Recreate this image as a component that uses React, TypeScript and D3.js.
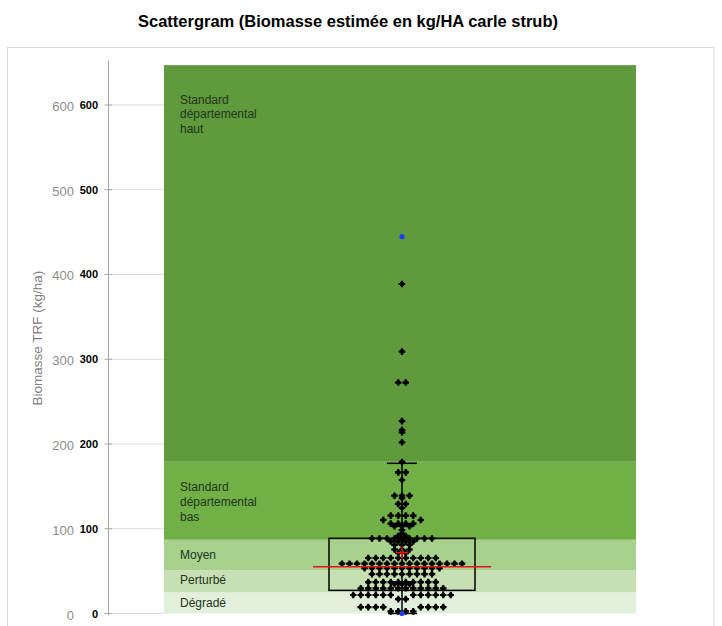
import React from "react";
import * as d3 from "d3";

// ---------- DATA ----------
const title = "Scattergram (Biomasse estimée en kg/HA carle strub)";
const yAxisLabel = "Biomasse TRF (kg/ha)";
const yTicks = [0, 100, 200, 300, 400, 500, 600];

const bandNames = [
  ["Dégradé"],
  ["Perturbé"],
  ["Moyen"],
  ["Standard", "départemental", "bas"],
  ["Standard", "départemental", "haut"],
];
const bandLows = [0, 25, 51, 87, 179];
const bandHighs = [25, 51, 87, 179, 647];

// dot rows: value (kg/ha) and number of dots sharing that value
const rowValues = [2.5, 7.5, 17, 21.8, 29.7, 34.5, 37, 46.5, 53.4, 58.8, 65.5, 71.5, 75.5, 81, 85, 88.5, 91.5, 94.6, 98.5, 103, 106, 110.3, 115.5, 124.5, 129.3, 136, 139, 157.5, 166.5, 178.8, 202, 213.8, 216.5, 227, 272.5, 309, 388.8];
const rowCounts = [4, 8, 2, 12, 12, 3, 10, 9, 11, 17, 10, 2, 3, 3, 4, 9, 2, 1, 1, 3, 4, 2, 4, 1, 2, 1, 3, 1, 2, 1, 1, 1, 1, 1, 2, 1, 1];
const extremeValues = [0, 444.6]; // min / max (blue)

const whiskerLow = 0;
const q1 = 27.3;
const median = 55.2;
const q3 = 88.7;
const whiskerHigh = 177.2;
const mean = 71.7;

// ---------- STYLE ----------
const bandColors = ["#e2efda", "#c6e0b4", "#a9d18e", "#71b047", "#5f9a3d"];
const bandLabelFirstBaseline = [607, 584, 559, 491, 103.5];

const W = 722;
const H = 626;
const plotTop = 62.6;
const plotBottom = 613.5;
const axisX = 108.5;
const greenLeft = 164;
const greenRight = 636;
const centerX = 402;
const slot = 7.5;

const y = d3.scaleLinear().domain([0, 650]).range([plotBottom, plotTop]);
const xOff = d3.scaleLinear().domain([-1, 1]).range([centerX - slot, centerX + slot]);

type Dot = { v: number; s: number };

function layoutDots(): Dot[] {
  const placed: { v: number; s: number; single: boolean }[] = [];
  const out: Dot[] = [];
  const order = d3.range(rowValues.length).sort((a, b) => rowValues[a] - rowValues[b]);
  for (const i of order) {
    const v = rowValues[i];
    const n = rowCounts[i];
    if (n === 1) {
      placed.push({ v, s: 0, single: true });
      out.push({ v, s: 0 });
      continue;
    }
    const even = n % 2 === 0;
    const cands: number[] = [];
    for (let k = 0; k < 40; k++) {
      if (even) {
        cands.push(-(k + 0.5), k + 0.5);
      } else if (k === 0) cands.push(0);
      else cands.push(-k, k);
    }
    let got = 0;
    for (const c of cands) {
      if (got >= n) break;
      const blocked = placed.some(
        (p) => !p.single && Math.abs(p.s - c) < 0.1 && Math.abs(y(p.v) - y(v)) < 4.4
      );
      if (blocked) continue;
      out.push({ v, s: c });
      got++;
    }
    out.filter((d) => d.v === v).forEach((d) => placed.push({ v: d.v, s: d.s, single: false }));
  }
  return out;
}

const dots = layoutDots();
const crossPath = d3.symbol().type(d3.symbolCross).size(24)() as string;

export default function App() {
  const labelFont = "'Liberation Sans', Arial, sans-serif";
  return (
    <svg
      width={W}
      height={H}
      viewBox={`0 0 ${W} ${H}`}
      style={{ position: "absolute", left: 0, top: 0, background: "#fff" }}
    >
      <text
        x={348}
        y={26.5}
        textAnchor="middle"
        fontFamily={labelFont}
        fontWeight="bold"
        fontSize={16.2}
        textLength={420}
        lengthAdjust="spacingAndGlyphs"
        fill="#000"
      >
        {title}
      </text>

      {/* outer frame */}
      <rect x={7.5} y={47.5} width={706.5} height={590} fill="none" stroke="#d9d9d9" strokeWidth={1} />

      {/* gridlines */}
      {yTicks.map((t) => (
        <line key={"g" + t} x1={axisX} x2={greenLeft} y1={y(t)} y2={y(t)} stroke="#dcdcdc" strokeWidth={1} />
      ))}

      {/* bands */}
      {bandLows.map((lo, i) => (
        <rect
          key={"b" + i}
          x={greenLeft}
          width={greenRight - greenLeft}
          y={y(bandHighs[i])}
          height={y(lo) - y(bandHighs[i])}
          fill={bandColors[i]}
        />
      ))}
      {bandNames.map((lines, i) => (
        <text key={"bl" + i} fontFamily={labelFont} fontSize={12} fill="#22351a">
          {lines.map((ln, j) => (
            <tspan key={j} x={180} y={bandLabelFirstBaseline[i] + j * 14.8}>
              {ln}
            </tspan>
          ))}
        </text>
      ))}

      {/* axis */}
      <line x1={axisX} x2={axisX} y1={plotTop - 2} y2={plotBottom + 2} stroke="#a6a6a6" strokeWidth={1} />
      {yTicks.map((t) => (
        <g key={"t" + t}>
          <line x1={104.5} x2={112} y1={y(t)} y2={y(t)} stroke="#a6a6a6" strokeWidth={1} />
          <text x={74} y={y(t) + 6} textAnchor="end" fontFamily={labelFont} fontSize={13} fill="#8c8c8c">
            {t}
          </text>
          <text x={98} y={y(t) + 4} textAnchor="end" fontFamily={labelFont} fontWeight="bold" fontSize={11} fill="#000">
            {t}
          </text>
        </g>
      ))}
      <text
        transform={`translate(42, ${y(325)}) rotate(-90)`}
        textAnchor="middle"
        fontFamily={labelFont}
        fontSize={13.5}
        fill="#808080"
      >
        {yAxisLabel}
      </text>

      {/* box plot */}
      <line x1={centerX} x2={centerX} y1={y(whiskerLow)} y2={y(whiskerHigh)} stroke="#000" strokeWidth={1.5} />
      <line x1={centerX - 15} x2={centerX + 15} y1={y(whiskerHigh)} y2={y(whiskerHigh)} stroke="#000" strokeWidth={1.5} />
      <line x1={centerX - 14} x2={centerX + 15} y1={y(whiskerLow)} y2={y(whiskerLow)} stroke="#000" strokeWidth={1.5} />
      <rect
        x={centerX - 73}
        width={146}
        y={y(q3)}
        height={y(q1) - y(q3)}
        fill="none"
        stroke="#000"
        strokeWidth={1.5}
      />

      {/* dots */}
      {dots.map((d, i) => (
        <g key={"d" + i} transform={`translate(${xOff(d.s)}, ${y(d.v)})`}>
          <path d={crossPath} fill="#000" />
          <circle r={2.3} fill="#000" />
        </g>
      ))}
      {extremeValues.map((v, i) => (
        <g key={"e" + i} transform={`translate(${centerX}, ${y(v)})`}>
          <circle r={2.6} fill="#1f3cff" />
        </g>
      ))}

      {/* median and mean */}
      <line x1={centerX - 89} x2={centerX + 89} y1={y(median)} y2={y(median)} stroke="#e8141c" strokeWidth={1.5} />
      <line x1={centerX - 6} x2={centerX + 6} y1={y(mean)} y2={y(mean)} stroke="#e8141c" strokeWidth={1.5} />
      <line x1={centerX} x2={centerX} y1={y(mean) - 6} y2={y(mean) + 6} stroke="#e8141c" strokeWidth={1.5} />
    </svg>
  );
}
